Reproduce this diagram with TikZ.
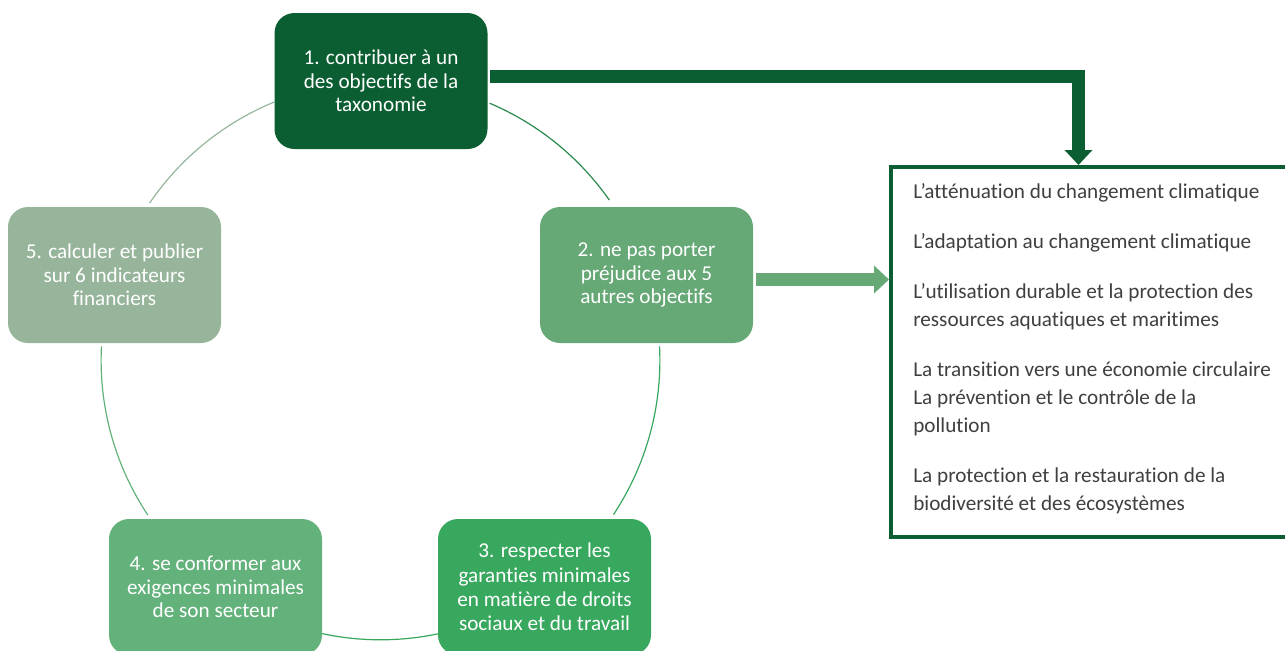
\documentclass[tikz,border=0pt]{standalone}
\usepackage{fontspec}
\setmainfont{Carlito}[Ligatures=NoCommon]
\usetikzlibrary{arrows.meta}
\definecolor{cdark}{HTML}{0B5E31}
\definecolor{ctwo}{HTML}{67A877}
\definecolor{cthree}{HTML}{38A85F}
\definecolor{cfour}{HTML}{63B27B}
\definecolor{cfive}{HTML}{96B59B}
\definecolor{carc}{HTML}{2A8A4C}
\definecolor{ctext}{HTML}{3F3F3F}
\tikzset{
  stepbox/.style={rectangle, rounded corners=15pt, minimum width=159.75pt, minimum height=102pt,
    text=white, align=center, font=\fontsize{15.9}{17.5}\selectfont, inner sep=0pt},
  cyc/.style={line width=0.9pt},
  bigarrow/.style={line width=9.75pt, line join=miter, -{Triangle[length=11.25pt, width=20.25pt]}},
}
\begin{document}
\begin{tikzpicture}[x=0.75pt, y=-0.75pt]
\useasboundingbox (0,0) rectangle (1285,650);
\clip (0,0) rectangle (1285,650);
% cycle arcs (angles measured in the flipped y system)
\draw[cyc, cfive] (380.5,360.4) ++(-145.7:279.4) arc[start angle=-145.7, end angle=-112.3, radius=279.4];
\draw[cyc, carc] (380.5,360.4) ++(-67.0:279.4) arc[start angle=-67.0, end angle=-35.0, radius=279.4];
\draw[cyc, cthree] (380.5,360.4) ++(-2.9:279.4) arc[start angle=-2.9, end angle=33.5, radius=279.4];
\draw[cyc, cthree] (380.5,360.4) ++(77.9:279.4) arc[start angle=77.9, end angle=102.2, radius=279.4];
\draw[cyc, cfour] (380.5,360.4) ++(146.4:279.4) arc[start angle=146.4, end angle=182.9, radius=279.4];
% step boxes
\node[stepbox, fill=cdark] (b1) at (381,81) {1. contribuer à un\\des objectifs de la\\taxonomie};
\node[stepbox, fill=ctwo] (b2) at (646.5,275) {2. ne pas porter\\préjudice aux 5\\autres objectifs};
\node[stepbox, fill=cthree, font=\fontsize{15.9}{18.2}\selectfont] (b3) at (544.5,587) {3. respecter les\\garanties minimales\\en matière de droits\\sociaux et du travail};
\node[stepbox, fill=cfour] (b4) at (215.5,587) {4. se conformer aux\\exigences minimales\\de son secteur};
\node[stepbox, fill=cfive] (b5) at (114.5,275) {5. calculer et publier\\sur 6 indicateurs\\financiers};
% objectives box
\node[draw=cdark, line width=3pt, minimum width=299.25pt, minimum height=277.5pt, inner sep=0pt] (rbox) at (1090.5,352) {};
\node[anchor=north west, align=left, text=ctext, font=\fontsize{15.9}{21}\selectfont, inner sep=0pt] (rtext) at (913,183)
{L’atténuation du changement climatique\\[16.5pt]
L’adaptation au changement climatique\\[16.5pt]
L’utilisation durable et la protection des\\
ressources aquatiques et maritimes\\[16.5pt]
La transition vers une économie circulaire\\
La prévention et le contrôle de la\\
pollution\\[16.5pt]
La protection et la restauration de la\\
biodiversité et des écosystèmes};
% arrows
\coordinate (c1) at (1078.5,76.5);
\draw[bigarrow, cdark] ([xshift=2pt]b1.east |- c1) -- (c1) -- (c1 |- rbox.north);
\coordinate (c2) at (756,279.5);
\draw[bigarrow, ctwo] (c2) -- (c2 -| rbox.west);
\end{tikzpicture}
\end{document}
